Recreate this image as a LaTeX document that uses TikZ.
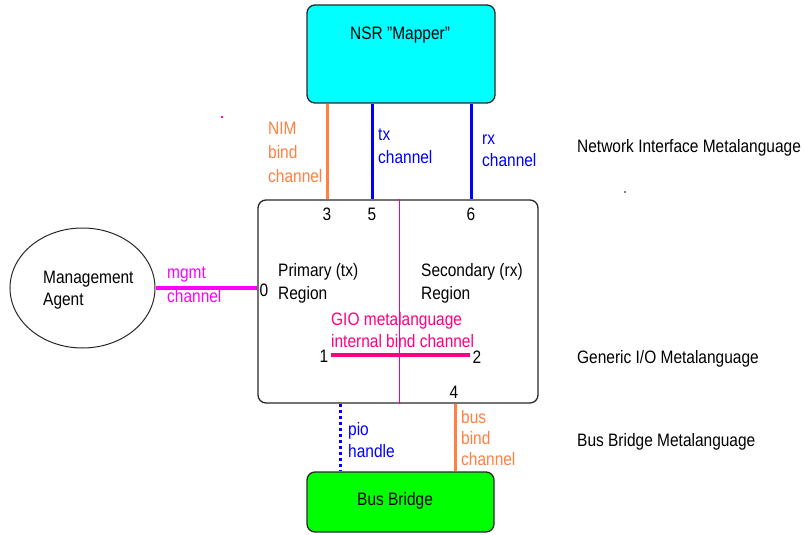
\documentclass[tikz,border=0pt]{standalone}
\usepackage{fontspec}
\setmainfont[FakeStretch=0.86]{Liberation Sans}
\usetikzlibrary{shapes.geometric}
\definecolor{nimorange}{RGB}{255,128,64}
\definecolor{chblue}{RGB}{0,0,255}
\definecolor{mgmtmag}{RGB}{255,0,255}
\definecolor{giopink}{RGB}{255,0,128}
\definecolor{nsrcyan}{RGB}{0,255,255}
\definecolor{bbgreen}{RGB}{0,255,0}
\definecolor{edgegray}{RGB}{40,40,40}
\tikzset{
  box/.style={draw=edgegray, line width=1.3pt, rounded corners=8pt, inner sep=0pt},
  txt/.style={anchor=base west, inner sep=0pt, font=\fontsize{18}{23}\selectfont},
  num/.style={anchor=base, inner sep=0pt, font=\fontsize{18}{23}\selectfont},
  orangeline/.style={draw=nimorange, line width=3pt},
  blueline/.style={draw=chblue, line width=3pt},
}
\begin{document}
\begin{tikzpicture}[x=1pt,y=-1pt]
\useasboundingbox[fill=white] (0,0) rectangle (804,535);

% boxes
\node[box, fill=nsrcyan, minimum width=188pt, minimum height=98pt] (nsr) at (401,54) {};
\node[box, fill=white, minimum width=280pt, minimum height=203pt] (main) at (398,301.5) {};
\node[box, fill=bbgreen, minimum width=187pt, minimum height=60pt] (bb) at (400.5,502) {};
\node[draw=edgegray, line width=1pt, ellipse, minimum width=145pt, minimum height=120pt, inner sep=0pt] (ma) at (82.5,288) {};

% box texts
\node[txt] (nsrtext) at (350,40) {NSR \symbol{34}Mapper\symbol{34}};
\node[txt] (bbtext) at (357,505) {Bus Bridge};
\node[txt] (matext1) at (43,283) {Management};
\node[txt] (matext2) at (43,305) {Agent};

% divider inside main box
\draw[giopink, line width=0.9pt] (399,0 |- main.north) -- (399,0 |- main.south);

% top channels
\draw[orangeline] (327,0 |- nsr.south) -- (327,0 |- main.north);
\draw[blueline] (372,0 |- nsr.south) -- (372,0 |- main.north);
\draw[blueline] (471,0 |- nsr.south) -- (471,0 |- main.north);

\node[txt, text=nimorange] (nim1) at (268,135) {NIM};
\node[txt, text=nimorange] (nim2) at (268,158.5) {bind};
\node[txt, text=nimorange] (nim3) at (268,182) {channel};
\node[txt, text=chblue] (tx1) at (378,140) {tx};
\node[txt, text=chblue] (tx2) at (378,163) {channel};
\node[txt, text=chblue] (rx1) at (482,144) {rx};
\node[txt, text=chblue] (rx2) at (482,166) {channel};

\node[num] (n3) at (327,220) {3};
\node[num] (n5) at (372,220) {5};
\node[num] (n6) at (471,220) {6};

% management channel
\draw[mgmtmag, line width=4.5pt] (ma.east) -- (ma.east -| main.west);
\node[txt, text=mgmtmag] (mg1) at (167,278) {mgmt};
\node[txt, text=mgmtmag] (mg2) at (167,302) {channel};
\node[num] (n0) at (264,296) {0};

% regions
\node[txt] (pr1) at (278,276) {Primary (tx)};
\node[txt] (pr2) at (278,299) {Region};
\node[txt] (sr1) at (421,276) {Secondary (rx)};
\node[txt] (sr2) at (421,299) {Region};

% GIO internal bind channel
\node[txt, text=giopink] (gio1) at (331,325) {GIO metalanguage};
\node[txt, text=giopink] (gio2) at (331,347) {internal bind channel};
\coordinate (g1) at (331,355);
\coordinate (g2) at (470,355);
\draw[giopink, line width=3.5pt] (g1) -- (g2);
\node[num] (n1) at (324,362) {1};
\node[num] (n2) at (477,363) {2};
\node[num] (n4) at (454,398) {4};

% bottom channels
\draw[blueline, dash pattern=on 3pt off 3pt] (340,0 |- main.south) -- (340,0 |- bb.north);
\draw[orangeline] (455,0 |- main.south) -- (455,0 |- bb.north);
\node[txt, text=chblue] (pio1) at (348,435) {pio};
\node[txt, text=chblue] (pio2) at (348,457) {handle};
\node[txt, text=nimorange] (bus1) at (461,423) {bus};
\node[txt, text=nimorange] (bus2) at (461,444) {bind};
\node[txt, text=nimorange] (bus3) at (461,465) {channel};

% layer names
\node[txt] (l1) at (577,153) {Network Interface Metalanguage};
\node[txt] (l2) at (577,363) {Generic I/O Metalanguage};
\node[txt] (l3) at (577,446) {Bus Bridge Metalanguage};

% stray dots
\fill[mgmtmag] (221,116) rectangle (223,118);
\fill[gray] (624,191) rectangle (626,193);
\end{tikzpicture}
\end{document}
